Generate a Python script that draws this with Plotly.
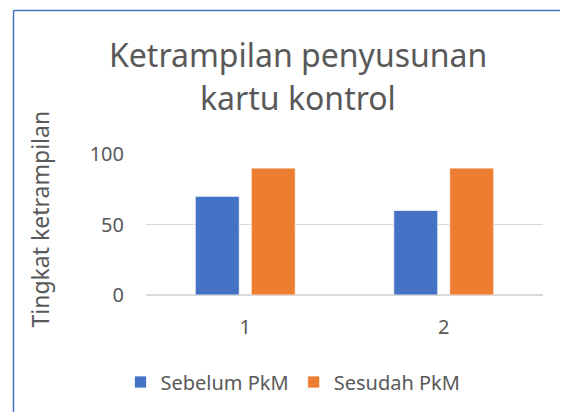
import plotly.graph_objects as go

categories = ["1", "2"]
sebelum = [70, 60]
sesudah = [90, 90]
series_names = ["Sebelum PkM", "Sesudah PkM"]
y_ticks = [0, 50, 100]

# page body has an 8px margin, so the figure starts at (8, 8) in the window
O = 8
W, H = 568 - O, 412 - O
# target plot area in window pixels: x 146..543, y 154..296
L, R, T, B = 146 - O, 568 - 543, 154 - O, 412 - 296
pw = W - L - R
ph = H - T - B

def px_x(x):
    return (x - O - L) / pw

def px_y(y):
    return (H - B - (y - O)) / ph

FONT = "Noto Sans"
GREY = "#595959"

fig = go.Figure()
fig.add_trace(go.Bar(x=categories, y=sebelum, name=series_names[0],
                     marker=dict(color="#4472C4", line=dict(color="white", width=0.75))))
fig.add_trace(go.Bar(x=categories, y=sesudah, name=series_names[1],
                     marker=dict(color="#ED7D31", line=dict(color="white", width=0.75))))

fig.update_layout(
    width=W, height=H,
    margin=dict(l=L, r=R, t=T, b=B),
    paper_bgcolor="white", plot_bgcolor="white",
    barmode="group", bargap=0.436, bargroupgap=0.214,
    font=dict(family=FONT, color=GREY, size=19),
    showlegend=True,
    legend=dict(orientation="h", x=px_x(293), y=px_y(382), xanchor="center", yanchor="middle",
                font=dict(size=20, color=GREY), itemwidth=30, traceorder="normal"),
    xaxis=dict(type="category", showgrid=False, showline=False, ticks="",
               ticklabelstandoff=18, tickfont=dict(size=20, color=GREY)),
    yaxis=dict(range=[0, 100], tickvals=y_ticks, showgrid=True, gridcolor="#D9D9D9", gridwidth=1,
               zeroline=True, zerolinecolor="#D9D9D9", zerolinewidth=1.5, showline=False, ticks="",
               ticklabelstandoff=21, tickfont=dict(size=20, color=GREY)),
    shapes=[
        dict(type="line", xref="paper", yref="paper", x0=px_x(13.5), x1=px_x(600),
             y0=px_y(9.5), y1=px_y(9.5), line=dict(color="#4472C4", width=1.5)),
        dict(type="line", xref="paper", yref="paper", x0=px_x(13.5), x1=px_x(13.5),
             y0=px_y(9.5), y1=px_y(440), line=dict(color="#4472C4", width=1.5)),
    ],
    annotations=[
        dict(text="Ketrampilan penyusunan", xref="paper", yref="paper", x=px_x(298), y=px_y(54),
             xanchor="center", yanchor="middle", showarrow=False, font=dict(size=32, color=GREY)),
        dict(text="kartu kontrol", xref="paper", yref="paper", x=px_x(298), y=px_y(97),
             xanchor="center", yanchor="middle", showarrow=False, font=dict(size=32, color=GREY)),
        dict(text="Tingkat ketrampilan", xref="paper", yref="paper", x=px_x(40), y=px_y(220),
             xanchor="center", yanchor="middle", textangle=-90, showarrow=False,
             font=dict(size=23, color=GREY)),
    ],
)

fig.write_html("out.html")
